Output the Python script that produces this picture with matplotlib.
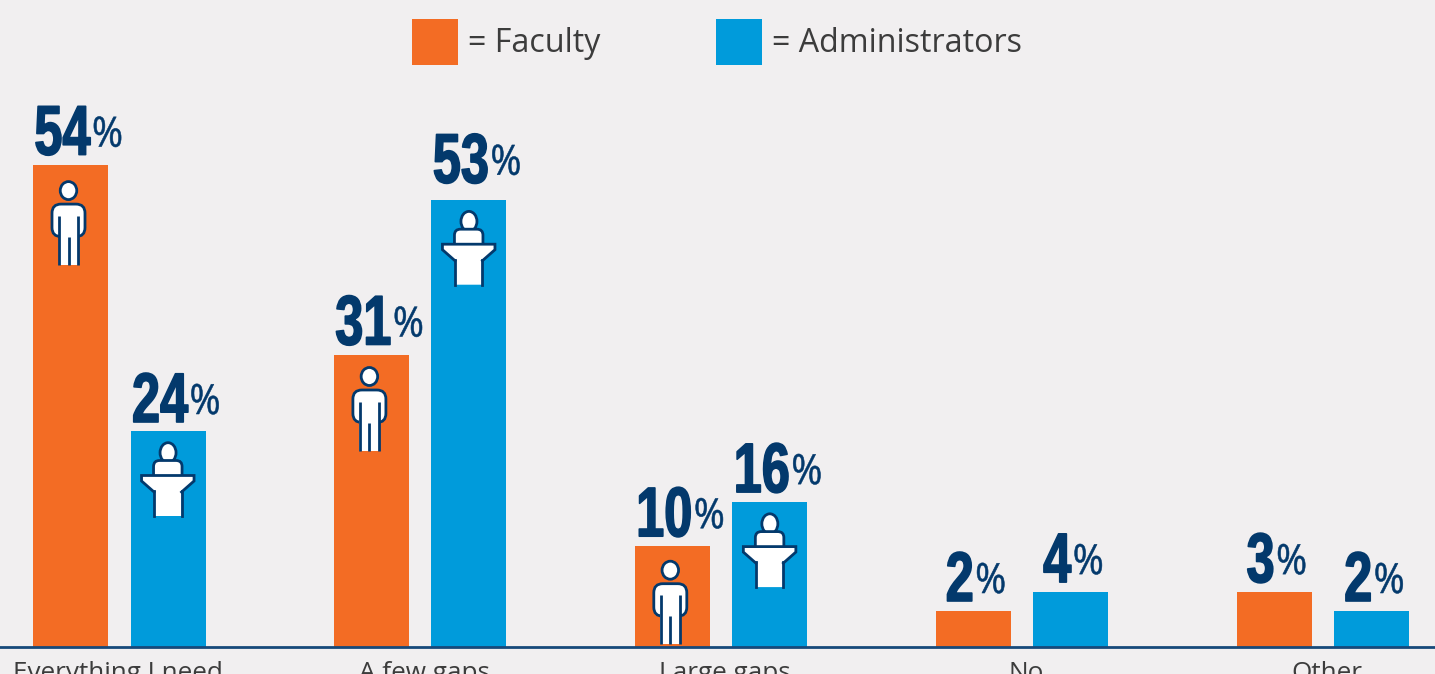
import matplotlib
matplotlib.use("Agg")
import matplotlib.pyplot as plt
from matplotlib.patches import Rectangle, Polygon, Ellipse, FancyBboxPatch
from matplotlib.patheffects import AbstractPathEffect
from matplotlib.transforms import Affine2D
from matplotlib.lines import Line2D

categories = ["Everything I need", "A few gaps", "Large gaps", "No", "Other"]
faculty_labels = [54, 31, 10, 2, 3]
admin_labels = [24, 53, 16, 4, 2]
# Drawn bar heights (they are not strictly proportional to the labels)
faculty_heights = [53.6, 32.5, 11.2, 4.0, 6.1]
admin_heights = [24.0, 49.7, 16.1, 6.1, 4.0]

W, H = 1435, 674
BASE = 647
PX = 9.0
ORANGE, BLUE, NAVY, BG = "#f36c24", "#009bdb", "#03396c", "#f1eff0"
GREY = "#3c3c3c"

fig = plt.figure(figsize=(W / 100, H / 100), dpi=100, facecolor=BG)
ax = fig.add_axes([0, (H - BASE) / H, 1, BASE / H], facecolor=BG)
X0, STEP = 119.275, 300.9
ax.set_xlim(-X0 / STEP, (W - X0) / STEP)
ax.set_ylim(0, BASE / PX)
bw = 75 / STEP
off = 48.775 / STEP
xs = list(range(len(categories)))
xf = [x - off for x in xs]
xa = [x + off for x in xs]
ax.bar(xf, faculty_heights, width=bw, color=ORANGE, zorder=2)
ax.bar(xa, admin_heights, width=bw, color=BLUE, zorder=2)

for s in ["top", "left", "right"]:
    ax.spines[s].set_visible(False)
ax.spines["bottom"].set_color("#17497a")
ax.spines["bottom"].set_linewidth(2.0)
ax.spines["bottom"].set_zorder(5)
ax.set_yticks([])
tick_shift = [-1.5, 4, 4, 4, 4]
ax.set_xticks([x + s / STEP for x, s in zip(xs, tick_shift)])
ax.set_xticklabels(categories, fontfamily="Open Sans", fontsize=18.8, color=GREY)
ax.tick_params(axis="x", length=0, pad=10)


def pix(x, y):
    return ax.transData.transform((x, y))


class Condense(AbstractPathEffect):
    """Narrows real text horizontally about a display x, optionally thickening it."""

    def __init__(self, anchor, sx, stroke=0.0):
        super().__init__()
        self.anchor, self.sx, self.stroke = anchor, sx, stroke

    def draw_path(self, renderer, gc, tpath, affine, rgbFace=None):
        a = affine + Affine2D().translate(-self.anchor, 0).scale(self.sx, 1).translate(self.anchor, 0)
        g = renderer.new_gc()
        g.copy_properties(gc)
        if self.stroke:
            g.set_linewidth(self.stroke)
            g.set_foreground(rgbFace)
        else:
            g.set_linewidth(0)
        renderer.draw_path(g, tpath, a, rgbFace)
        g.restore()


NUM = dict(family="Liberation Sans", fontweight="bold", fontsize=50.5, color=NAVY)
PCT = dict(family="Open Sans", fontsize=30, color=NAVY)


def label(x, h, v, gap):
    px, py = pix(x, h)
    j = 20 if v >= 10 else 0.5
    anchor = px + j
    disp = Affine2D().translate(anchor, py + gap)
    t1 = fig.text(0, 0, str(v), transform=disp, ha="right", va="baseline", **NUM)
    t1.set_path_effects([Condense(anchor, 0.72, 1.2)])
    t2 = fig.text(1.5, 8, "%", transform=disp, ha="left", va="baseline", **PCT)
    t2.set_path_effects([Condense(anchor + 1.5, 0.9, 0.4)])


for x, h, v in zip(xf, faculty_heights, faculty_labels):
    label(x, h, v, 10)
for x, h, v, g in zip(xa, admin_heights, admin_labels, [9, 17, 10, 10, 10]):
    label(x, h, v, g)

LW = 2.0


def person(x, h, dy):
    cx, ty = pix(x, h)
    t = Affine2D().scale(1, -1).translate(cx - 2, ty - dy)
    kw = dict(transform=t, facecolor="white", edgecolor=NAVY, linewidth=LW, zorder=4, clip_on=False)
    fig.add_artist(Ellipse((0, 0), 16.5, 18, **kw))
    fig.add_artist(FancyBboxPatch((-16.5, 13.5), 33, 32.5, boxstyle="round,pad=0,rounding_size=9", **kw))
    fig.add_artist(Rectangle((-10, 35), 20.5, 39, transform=t, facecolor="white", edgecolor="none", zorder=4.5))
    for xx, a, b in [(-9.5, 25, 74), (9.5, 25, 74), (0, 46, 74)]:
        fig.add_artist(Line2D([xx, xx], [a, b], transform=t, color=NAVY, lw=LW, zorder=5, solid_capstyle="butt"))


def podium(x, h):
    cx, ty = pix(x, h)
    t = Affine2D().scale(1, -1).translate(cx - 0.5, ty)
    kw = dict(transform=t, facecolor="white", edgecolor=NAVY, linewidth=LW, zorder=4, clip_on=False)
    fig.add_artist(Ellipse((0.5, 21.7), 16, 20, **kw))
    fig.add_artist(FancyBboxPatch((-14, 29.5), 28.5, 22, boxstyle="round,pad=0,rounding_size=6", **kw))
    fig.add_artist(Polygon([(-26, 44.5), (26.5, 44.5), (26.5, 50), (14, 62), (14, 85), (-13.5, 85), (-13.5, 62), (-26, 50)],
                           closed=True, transform=t, facecolor="white", edgecolor="none", zorder=4.5))
    lines = [([-13.5, -13.5], [60, 85]), ([14, 14], [60, 85]),
             ([-13.5, -26, -26, 26.5, 26.5, 14], [61, 50, 44.5, 44.5, 50, 61])]
    for xx, yy in lines:
        fig.add_artist(Line2D(xx, yy, transform=t, color=NAVY, lw=LW, zorder=5, solid_joinstyle="miter"))


for x, h, d in zip(xf[:3], faculty_heights[:3], [26, 22, 24]):
    person(x, h, d)
for x, h in zip(xa[:3], admin_heights[:3]):
    podium(x, h)

screen = Affine2D().scale(1, -1).translate(0, H)
for x0, c, txt in [(412, ORANGE, "= Faculty"), (716, BLUE, "= Administrators")]:
    fig.add_artist(Rectangle((x0, 19), 46, 46, transform=screen, facecolor=c, edgecolor="none"))
    fig.text(x0 + 56, 44, txt, transform=screen, fontfamily="Open Sans", fontsize=23.2, color=GREY, ha="left", va="center")

fig.savefig("out.png", dpi=100, facecolor=BG)
